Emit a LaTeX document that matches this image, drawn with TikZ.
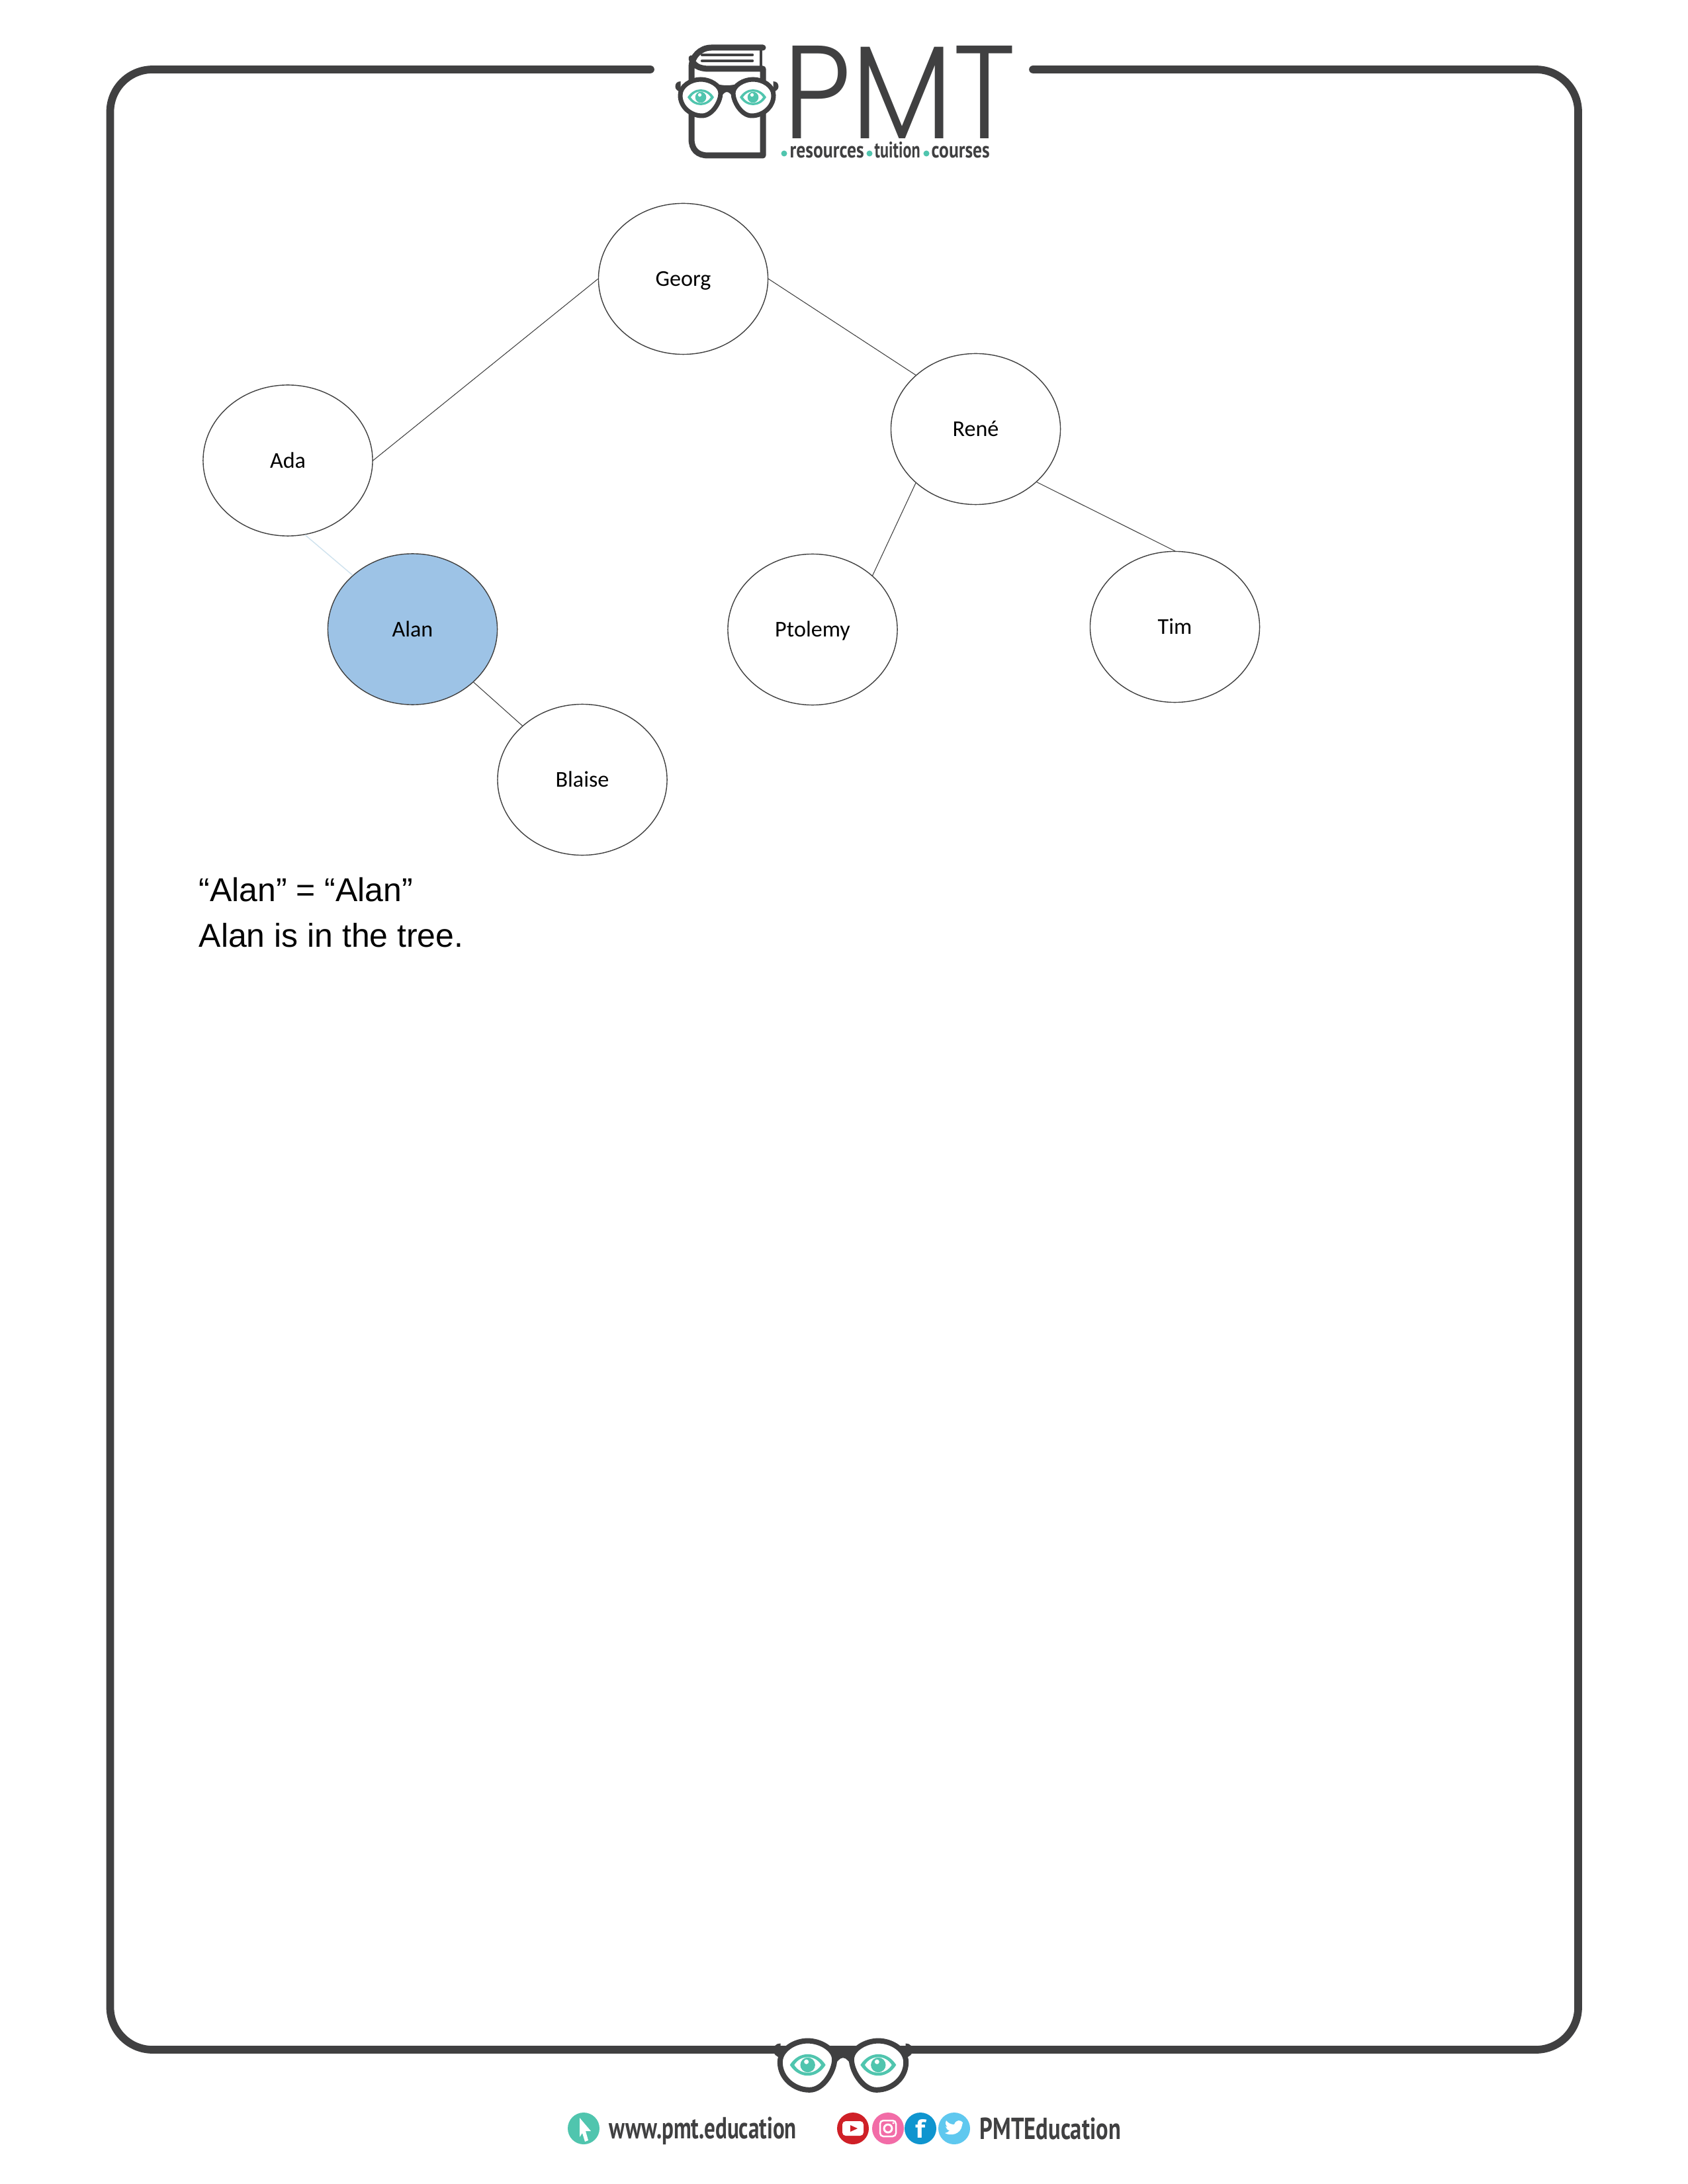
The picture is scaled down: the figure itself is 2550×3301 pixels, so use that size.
\documentclass[tikz,border=0pt]{standalone}
\usepackage{fontspec}
\usepackage{graphicx}
\usetikzlibrary{shapes.geometric}
\setmainfont{Liberation Sans}
\newfontfamily\calib{Carlito}
\newfontfamily\popf[UprightFont=* Light]{Poppins}
\newfontfamily\ptsf{PT Sans}
\definecolor{pdark}{HTML}{404041}
\definecolor{pteal}{HTML}{50C5AE}
\definecolor{pred}{HTML}{CF2027}
\definecolor{ppink}{HTML}{F26CA7}
\definecolor{pblue}{HTML}{0F95CF}
\definecolor{psky}{HTML}{5FC8EF}
\definecolor{nodeline}{HTML}{404040}
\definecolor{alanfill}{HTML}{9DC3E6}
\definecolor{paleline}{HTML}{CFE2EE}
\newcommand{\fitw}[3]{\resizebox{#1cm}{#2cm}{\rule{0pt}{1em}#3}}
\newcommand{\oneeye}[2]{%
  \begin{scope}[shift={(#1,#2)}]
    \fill[pteal] (-20,0) .. controls (-10,-16) and (10,-16) .. (20,0) .. controls (10,16) and (-10,16) .. (-20,0) -- cycle;
    \fill[white] (-15,0) .. controls (-8,-11.5) and (8,-11.5) .. (15,0) .. controls (8,11.5) and (-8,11.5) .. (-15,0) -- cycle;
    \fill[pteal] (0,0) circle (8.3);
    \fill[white] (-1.5,-3.5) circle (2.6);
  \end{scope}}
\newcommand{\lenspath}{(0,-27) .. controls (14,-27) and (30,-18) .. (30,-6) .. controls (30,6) and (18,28) .. (2,28) .. controls (-15,28) and (-31,15) .. (-31,-3) .. controls (-31,-17) and (-15,-27) .. (0,-27) -- cycle}
\newcommand{\specs}[4]{%
  \begin{scope}[shift={(#1,#2)},scale=#3]
    \fill[pdark] (-70,-24) .. controls (-76,-24) and (-78,-20) .. (-78,-16) .. controls (-78,-12) and (-74,-9) .. (-70,-8) -- cycle;
    \fill[pdark] (70,-24) .. controls (76,-24) and (78,-20) .. (78,-16) .. controls (78,-12) and (74,-9) .. (70,-8) -- cycle;
    \fill[pdark] (-18,-21) .. controls (-8,-17) and (8,-17) .. (18,-21) -- (11,2) .. controls (7,-3) and (4,-8) .. (0,-8) .. controls (-4,-8) and (-7,-3) .. (-11,2) -- cycle;
    \begin{scope}[shift={(-39.5,0)}]
      \filldraw[fill=white,draw=pdark,line width=#4] \lenspath;
    \end{scope}
    \begin{scope}[shift={(39.5,0)},xscale=-1]
      \filldraw[fill=white,draw=pdark,line width=#4] \lenspath;
    \end{scope}
    \oneeye{-39.5}{0}
    \oneeye{39.5}{0}
  \end{scope}}
\tikzset{
  frameline/.style={draw=pdark,line width=0.117cm,line cap=round,rounded corners=0.64cm},
  bookline/.style={draw=pdark,line width=0.09cm,line cap=round,line join=round},
  treenode/.style={ellipse,draw=nodeline,line width=0.4pt,fill=white,minimum width=2.56cm,minimum height=2.28cm,inner sep=0pt,text height=0.22cm,text depth=0cm,font=\calib\fontsize{9.7}{12}\selectfont,text=black},
  treeline/.style={draw=nodeline,line width=0.3pt},
  bodytext/.style={anchor=base west,inner sep=0pt,font=\fontsize{14.2}{17}\selectfont,text=black},
  fitnode/.style={anchor=base west,inner sep=0pt,text=pdark}
}
\begin{document}
\begin{tikzpicture}[x=0.01cm,y=-0.01cm]
\useasboundingbox (0,0) rectangle (2550,3301);
\fill[white] (0,0) rectangle (2550,3301);
% frame
\draw[frameline] (983,105) -- (166.5,105) -- (166.5,3098) -- (2385,3098) -- (2385,105) -- (1561,105);
% book
\draw[bookline] (1153,72) -- (1075,72) arc[start angle=90,end angle=180,x radius=30,y radius=-30] -- (1045,210) .. controls (1045,226) and (1054,235) .. (1070,235) -- (1153,235) -- (1153,104) -- (1072,104) .. controls (1055,104) and (1047,98) .. (1045,88);
\draw[draw=pdark,line width=0.04cm] (1150,75) -- (1150,102);
\draw[draw=pdark,line width=0.045cm,line cap=round] (1061,83) -- (1137,83);
\draw[draw=pdark,line width=0.045cm,line cap=round] (1061,92) -- (1137,92);
\specs{1098.5}{147}{1}{0.07cm}
% PMT wordmark
\node[fitnode] (pmt) at (1183,210) {\resizebox{3.52cm}{1.4cm}{\popf PMT}};
\fill[pteal] (1185,232) circle (4.5);
\node[fitnode] (res) at (1193,238.5) {\fitw{1.12}{0.34}{\ptsf\bfseries resources}};
\fill[pteal] (1314,232) circle (4.5);
\node[fitnode] (tui) at (1321,238.5) {\fitw{0.69}{0.34}{\ptsf\bfseries tuition}};
\fill[pteal] (1400,232) circle (4.5);
\node[fitnode] (cou) at (1407,238.5) {\fitw{0.88}{0.34}{\ptsf\bfseries courses}};
% tree
\node[treenode] (georg) at (1032.5,421.5) {Georg};
\node[treenode] (ada) at (435,696) {Ada};
\node[treenode] (rene) at (1474.5,648.5) {René};
\node[treenode,fill=alanfill] (alan) at (623.5,951) {Alan};
\node[treenode] (ptolemy) at (1228,951.5) {Ptolemy};
\node[treenode] (tim) at (1775.5,947.5) {Tim};
\node[treenode] (blaise) at (880,1178.5) {Blaise};
\draw[treeline] (georg.west) -- (ada.east);
\draw[treeline] (georg.east) -- (rene.138);
\draw[treeline] (rene.222) -- (ptolemy.42);
\draw[treeline] (rene.-41.6) -- (tim.north);
\draw[draw=paleline,line width=0.4pt] (ada.-77) -- (alan.138);
\draw[treeline] (alan.-41.5) -- (blaise.138);
% caption
\node[bodytext] (line1) at (300,1362) {“Alan” = “Alan”};
\node[bodytext] (line2) at (300,1431) {Alan is in the tree.};
% bottom glasses
\specs{1274}{3121}{1.35}{0.08cm}
% footer
\fill[pteal] (882,3217) circle (24);
\fill[white] (876,3201) -- (893,3221) -- (885,3221) -- (889,3235) -- (884,3237) -- (880,3224) -- (876,3230) -- cycle;
\node[fitnode] (www) at (920,3232) {\fitw{2.83}{0.46}{\ptsf\bfseries www.pmt.education}};
\fill[pred] (1289,3217) circle (24);
\fill[white,rounded corners=0.05cm] (1273,3206) rectangle (1305,3228);
\fill[pred] (1285,3212) -- (1296,3217) -- (1285,3222) -- cycle;
\fill[ppink] (1342,3217) circle (24);
\draw[white,line width=0.025cm,rounded corners=0.05cm] (1330,3205) rectangle (1354,3229);
\draw[white,line width=0.03cm] (1342,3217) circle (6);
\fill[white] (1350,3209) circle (1.6);
\fill[pblue] (1391,3217) circle (24);
\node[anchor=base,inner sep=0pt,text=white] (fb) at (1391,3231) {\resizebox{0.15cm}{0.28cm}{\ptsf\bfseries f}};
\fill[psky] (1442,3217) circle (24);
\fill[white] (1455,3208) .. controls (1452,3204) and (1445,3203) .. (1442,3211) .. controls (1437,3211) and (1433,3209) .. (1430,3205) .. controls (1428,3209) and (1429,3212) .. (1432,3215) -- (1429,3214) .. controls (1430,3217) and (1432,3220) .. (1435,3220) .. controls (1433,3222) and (1431,3224) .. (1428,3224) .. controls (1437,3229) and (1452,3226) .. (1454,3212) -- cycle;
\node[fitnode] (pmted) at (1480,3233) {\fitw{2.13}{0.46}{\ptsf\bfseries PMTEducation}};
\end{tikzpicture}
\end{document}
